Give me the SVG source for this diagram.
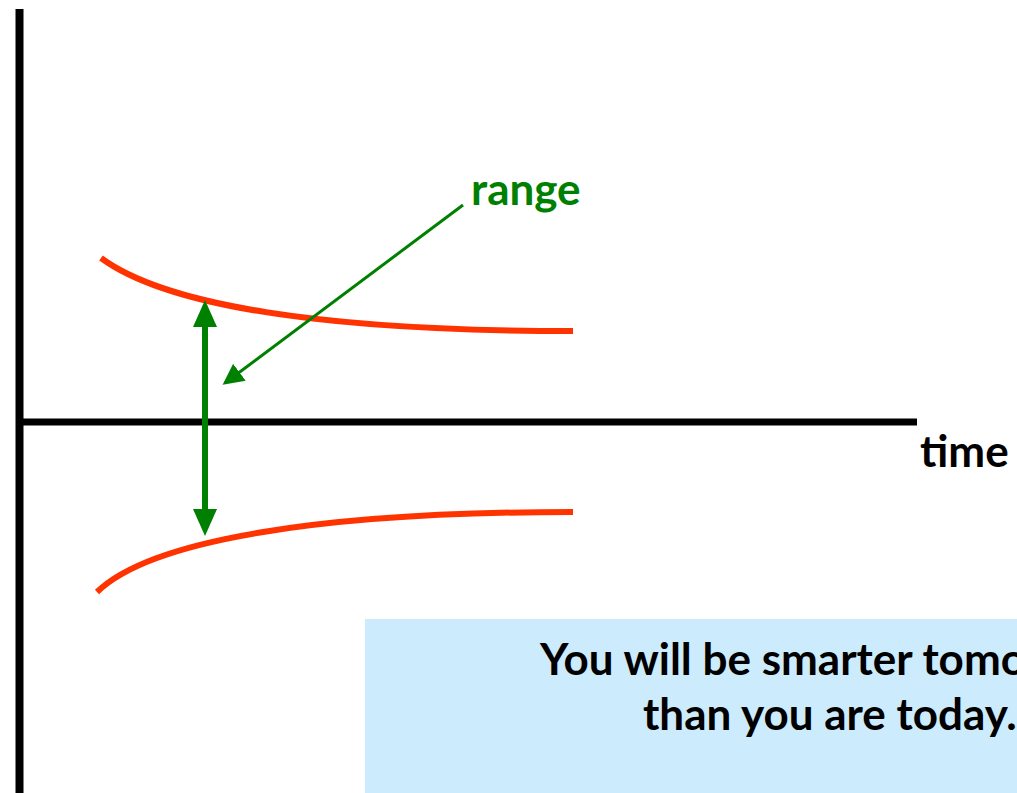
<svg xmlns="http://www.w3.org/2000/svg" width="1017" height="793" viewBox="0 0 1017 793">
<style>
.axis{stroke:#000;stroke-width:7;fill:none}
.curve{stroke:#FF3300;stroke-width:6;fill:none}
.g{fill:#008000}
.lbl{font-family:Lato,"Open Sans",sans-serif;font-weight:bold;font-size:44px}
</style>
<defs>
<marker id="ah" markerWidth="7" markerHeight="7" refX="6" refY="3.5" orient="auto" markerUnits="strokeWidth"><path d="M0,0 L7,3.5 L0,7 z" fill="#008000"/></marker>
</defs>
<rect width="1017" height="793" fill="#fff"/>
<g id="axes">
<line class="axis" x1="19.5" y1="9" x2="19.5" y2="793" style="stroke-width:8"/>
<line class="axis" x1="16" y1="422" x2="917" y2="422"/>
<text class="lbl" x="920" y="467">time</text>
</g>
<g id="curves">
<path class="curve" d="M101,258 C165,305 320,331 573,331"/>
<path class="curve" d="M97,592 C150,540 320,512 573,512"/>
</g>
<g id="connectors">
<line x1="205" y1="322" x2="205" y2="514" stroke="#008000" stroke-width="6"/>
<polygon class="g" points="205,300 193,327 217,327"/>
<polygon class="g" points="205,536 193,509 217,509"/>
<line x1="463" y1="205" x2="225" y2="383" stroke="#008000" stroke-width="3" marker-end="url(#ah)"/>
</g>
<g id="range">
<text class="lbl g" x="471" y="205">range</text>
</g>
<g id="note">
<rect x="365" y="619" width="660" height="180" fill="#CCEBFC"/>
<text class="lbl" x="540" y="675">You will be smarter tomorrow</text>
<text class="lbl" x="643" y="730">than you are today.</text>
</g>
</svg>
